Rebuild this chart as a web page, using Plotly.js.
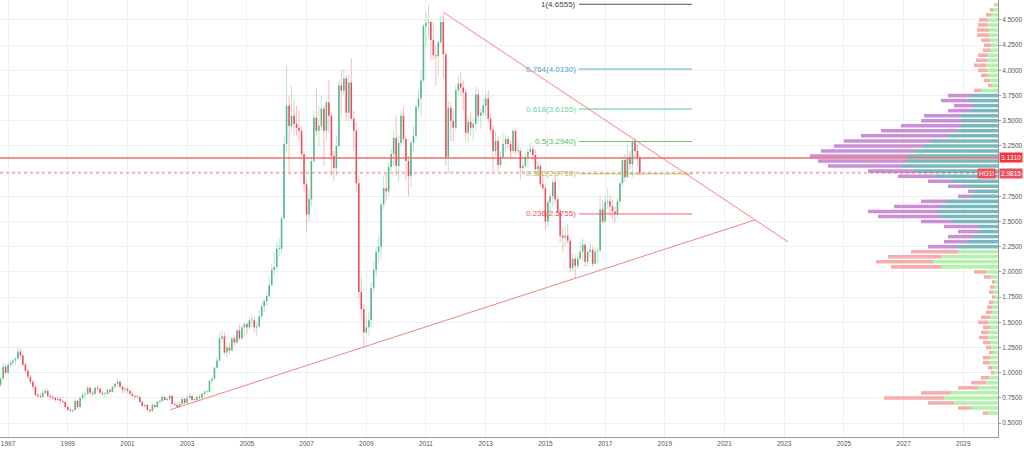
<!DOCTYPE html>
<html><head><meta charset="utf-8">
<script src="https://cdn.plot.ly/plotly-3.0.1.min.js"></script>
<style>html,body{margin:0;padding:0;background:#fff}#chart{width:1024px;height:449px}</style>
</head><body><div id="chart"></div>
<script>
// Monthly candles for HG1! starting Oct 1996
const startYear = 1996, startMonth = 10;
const open = [
0.88,0.94,1.06,
1.00,1.08,1.10,1.12,1.14,1.21,1.17,1.08,1.02,0.96,0.91,0.86,
0.78,0.77,0.76,0.80,0.82,0.77,0.76,0.75,0.73,0.74,0.72,0.71,
0.66,0.63,0.62,0.63,0.72,0.66,0.75,0.78,0.79,0.85,0.80,0.79,
0.85,0.84,0.80,0.79,0.79,0.83,0.81,0.86,0.89,0.91,0.86,0.83,
0.84,0.82,0.79,0.77,0.76,0.76,0.71,0.67,0.68,0.63,0.62,0.68,
0.66,0.71,0.72,0.76,0.73,0.74,0.77,0.69,0.68,0.66,0.69,0.74,
0.70,0.75,0.77,0.73,0.73,0.76,0.75,0.79,0.81,0.81,0.92,0.94,
1.05,1.12,1.34,1.36,1.20,1.25,1.22,1.34,1.30,1.42,1.34,1.45,
1.48,1.45,1.52,1.52,1.45,1.46,1.56,1.66,1.71,1.76,1.87,2.02,
2.05,2.23,2.23,2.53,3.27,3.65,3.45,3.55,3.47,3.43,3.40,3.17,
2.87,2.57,2.72,3.10,3.53,3.40,3.45,3.62,3.40,3.68,3.55,3.15,
3.03,3.25,3.85,3.80,3.92,3.58,3.88,3.52,3.40,2.88,1.80,1.63,
1.40,1.45,1.52,1.84,2.02,2.20,2.25,2.67,2.83,2.80,3.04,3.17,
3.33,3.05,3.28,3.55,3.32,3.10,2.95,3.28,3.35,3.64,3.72,3.90,
4.44,4.47,4.48,4.30,4.15,4.14,4.28,4.48,4.16,3.14,3.63,3.50,
3.43,3.80,3.87,3.83,3.78,3.38,3.49,3.43,3.47,3.76,3.55,3.58,
3.65,3.72,3.52,3.41,3.20,3.30,3.06,3.14,3.27,3.32,3.27,3.20,
3.40,3.20,3.20,3.03,3.05,3.14,3.19,3.22,3.16,3.02,3.05,2.87,
2.83,2.50,2.69,2.75,2.89,2.72,2.60,2.36,2.34,2.36,2.31,2.04,
2.13,2.06,2.13,2.20,2.27,2.10,2.20,2.22,2.08,2.20,2.21,2.62,
2.50,2.69,2.70,2.65,2.60,2.57,2.70,2.88,3.11,2.94,3.14,3.07,
3.30,3.20,3.13];
const high = [
0.96,1.10,1.08,
1.10,1.12,1.14,1.16,1.26,1.24,1.18,1.10,1.04,0.98,0.93,0.87,
0.80,0.80,0.82,0.84,0.83,0.79,0.78,0.76,0.77,0.76,0.76,0.72,
0.67,0.65,0.64,0.74,0.73,0.76,0.80,0.81,0.87,0.86,0.83,0.86,
0.88,0.85,0.82,0.81,0.84,0.84,0.87,0.90,0.94,0.92,0.87,0.86,
0.86,0.83,0.81,0.79,0.78,0.77,0.72,0.70,0.69,0.64,0.70,0.69,
0.72,0.74,0.78,0.77,0.76,0.79,0.78,0.71,0.70,0.71,0.76,0.75,
0.77,0.80,0.78,0.75,0.78,0.78,0.80,0.83,0.83,0.93,0.97,1.06,
1.16,1.40,1.42,1.40,1.30,1.30,1.36,1.37,1.44,1.48,1.48,1.50,
1.50,1.55,1.58,1.56,1.50,1.62,1.70,1.74,1.79,1.95,2.08,2.20,
2.30,2.33,2.55,3.35,4.05,3.75,3.85,3.70,3.65,3.60,3.45,3.20,
2.90,2.82,3.15,3.60,3.82,3.65,3.75,3.65,3.70,3.90,3.58,3.20,
3.35,3.90,4.00,4.02,3.95,3.95,4.12,3.60,3.48,2.95,1.95,1.68,
1.55,1.60,1.90,2.10,2.25,2.35,2.70,2.95,2.98,3.08,3.22,3.40,
3.55,3.35,3.60,3.63,3.35,3.15,3.30,3.45,3.65,3.80,4.00,4.46,
4.58,4.6555,4.50,4.48,4.25,4.30,4.54,4.56,4.20,3.70,3.68,3.62,
3.85,3.95,3.98,3.90,3.82,3.55,3.58,3.53,3.85,3.82,3.62,3.72,
3.78,3.80,3.57,3.45,3.40,3.35,3.20,3.38,3.36,3.35,3.30,3.42,
3.41,3.28,3.23,3.10,3.18,3.22,3.28,3.25,3.21,3.10,3.07,2.96,
2.86,2.72,2.79,2.92,2.98,2.75,2.62,2.44,2.45,2.47,2.34,2.19,
2.17,2.17,2.30,2.33,2.28,2.22,2.30,2.25,2.24,2.24,2.76,2.71,
2.75,2.84,2.76,2.72,2.65,2.73,2.90,3.14,3.17,3.26,3.20,3.31,
3.33,3.26,3.16];
const low = [
0.86,0.93,0.98,
0.99,1.05,1.07,1.08,1.13,1.14,1.06,0.99,0.93,0.88,0.83,0.76,
0.74,0.74,0.75,0.78,0.75,0.73,0.73,0.71,0.72,0.70,0.70,0.65,
0.62,0.61,0.60,0.62,0.64,0.64,0.73,0.74,0.78,0.78,0.77,0.78,
0.82,0.79,0.77,0.76,0.78,0.79,0.80,0.84,0.86,0.84,0.80,0.80,
0.80,0.78,0.76,0.73,0.74,0.70,0.66,0.65,0.62,0.60,0.61,0.64,
0.65,0.69,0.71,0.72,0.72,0.73,0.68,0.67,0.65,0.65,0.68,0.69,
0.70,0.74,0.72,0.70,0.72,0.73,0.74,0.76,0.78,0.80,0.89,0.93,
1.04,1.11,1.30,1.18,1.16,1.18,1.21,1.26,1.28,1.32,1.33,1.35,
1.38,1.43,1.46,1.40,1.36,1.44,1.53,1.60,1.66,1.74,1.85,1.96,
2.02,2.15,2.19,2.52,3.20,3.00,3.40,3.35,3.35,3.30,3.15,2.80,
2.40,2.50,2.65,3.08,3.35,3.25,3.40,3.05,3.30,3.38,2.95,2.90,
2.95,3.23,3.55,3.75,3.50,3.50,3.50,3.20,2.80,1.75,1.52,1.25,
1.38,1.37,1.45,1.80,1.95,2.10,2.12,2.62,2.70,2.75,3.00,3.05,
2.95,2.90,3.25,3.30,2.90,2.75,2.85,3.20,3.30,3.60,3.55,3.88,
4.25,4.33,4.10,4.10,3.85,3.95,4.26,3.92,3.05,2.97,3.30,3.30,
3.40,3.75,3.75,3.60,3.30,3.28,3.35,3.30,3.40,3.50,3.42,3.55,
3.55,3.48,3.37,3.00,3.15,3.00,3.03,3.12,3.20,3.22,3.13,3.18,
3.17,3.17,2.92,2.97,3.03,3.03,3.17,3.10,3.00,2.94,2.85,2.80,
2.42,2.44,2.56,2.65,2.68,2.55,2.29,2.20,2.25,2.28,2.00,2.01,
1.9325,2.03,2.12,2.10,2.05,2.05,2.15,2.05,2.07,2.08,2.20,2.48,
2.48,2.62,2.55,2.52,2.49,2.53,2.65,2.85,2.90,2.93,3.02,2.94,
3.13,3.05,2.96];
const close = [
0.94,1.06,1.00,
1.08,1.10,1.12,1.14,1.21,1.17,1.08,1.02,0.96,0.91,0.86,0.78,
0.77,0.76,0.80,0.82,0.77,0.76,0.75,0.73,0.74,0.72,0.71,0.66,
0.63,0.62,0.63,0.72,0.66,0.75,0.78,0.79,0.85,0.80,0.79,0.85,
0.84,0.80,0.79,0.79,0.83,0.81,0.86,0.89,0.91,0.86,0.83,0.84,
0.82,0.79,0.77,0.76,0.76,0.71,0.67,0.68,0.63,0.62,0.68,0.66,
0.71,0.72,0.76,0.73,0.74,0.77,0.69,0.68,0.66,0.69,0.74,0.70,
0.75,0.77,0.73,0.73,0.76,0.75,0.79,0.81,0.81,0.92,0.94,1.05,
1.12,1.34,1.36,1.20,1.25,1.22,1.34,1.30,1.42,1.34,1.45,1.48,
1.45,1.52,1.52,1.45,1.46,1.56,1.66,1.71,1.76,1.87,2.02,2.05,
2.23,2.23,2.53,3.27,3.65,3.45,3.55,3.47,3.43,3.40,3.17,2.87,
2.57,2.72,3.10,3.53,3.40,3.45,3.62,3.40,3.68,3.55,3.15,3.03,
3.25,3.85,3.80,3.92,3.58,3.88,3.52,3.40,2.88,1.80,1.63,1.40,
1.45,1.52,1.84,2.02,2.20,2.25,2.67,2.83,2.80,3.04,3.17,3.33,
3.05,3.28,3.55,3.32,3.10,2.95,3.28,3.35,3.64,3.72,3.90,4.44,
4.47,4.48,4.30,4.15,4.14,4.28,4.48,4.16,3.14,3.63,3.50,3.43,
3.80,3.87,3.83,3.78,3.38,3.49,3.43,3.47,3.76,3.55,3.58,3.65,
3.72,3.52,3.41,3.20,3.30,3.06,3.14,3.27,3.32,3.27,3.20,3.40,
3.20,3.20,3.03,3.05,3.14,3.19,3.22,3.16,3.02,3.05,2.87,2.83,
2.50,2.69,2.75,2.89,2.72,2.60,2.36,2.34,2.36,2.31,2.04,2.13,
2.06,2.13,2.20,2.27,2.10,2.20,2.22,2.08,2.20,2.21,2.62,2.50,
2.69,2.70,2.65,2.60,2.57,2.70,2.88,3.11,2.94,3.14,3.07,3.30,
3.20,3.13,2.9815];

// Volume profile (visible range): price rows, total volume and up volume per row
const profilePrice = [
0.60,0.65,0.70,0.75,0.80,0.85,0.90,0.95,1.00,1.05,1.10,1.15,1.20,1.25,1.30,1.35,1.40,1.45,1.50,1.55,
1.60,1.65,1.70,1.75,1.80,1.85,1.90,1.95,2.00,2.05,2.10,2.15,2.20,2.25,2.30,2.35,2.40,2.45,2.50,2.55,
2.60,2.65,2.70,2.75,2.80,2.85,2.90,2.95,3.00,3.05,3.10,3.15,3.20,3.25,3.30,3.35,3.40,3.45,3.50,3.55,
3.60,3.65,3.70,3.75,3.80,3.85,3.90,3.95,4.00,4.05,4.10,4.15,4.20,4.25,4.30,4.35,4.40,4.45,4.50,4.55,
4.60,4.65];
const profileTotal = [
15,40,70,114,77,40,27,17,7,10,15,15,9,12,15,19,17,15,20,17,
12,11,9,6,9,8,6,14,24,107,122,110,87,70,54,50,40,54,77,120,
130,104,77,40,30,50,70,100,130,170,180,188,177,164,154,137,117,97,77,74,
50,44,57,50,24,10,14,17,20,24,22,20,15,14,17,21,21,20,19,12,
8,4];
const profileUp = [
10,27,44,54,47,20,12,9,4,6,8,8,5,7,8,10,9,8,10,8,
6,6,5,3,5,4,3,7,12,57,65,57,40,40,30,24,19,20,47,57,
61,57,51,27,24,34,47,61,84,97,91,91,84,74,67,51,41,37,37,37,
28,24,30,27,16,6,8,10,11,12,11,10,8,7,8,9,9,10,10,7,
5,3];
const valueAreaLow = 2.25, valueAreaHigh = 3.75;

// Price axis tick values
const priceTicks = [0.50,0.75,1.00,1.25,1.50,1.75,2.00,2.25,2.50,2.75,3.00,3.25,3.50,3.75,4.00,4.25,4.50];

// Fibonacci retracement drawn between the 2011 high and the 2016 low
const fibLevels = [1, 0.764, 0.618, 0.5, 0.382, 0.236];
const fibPrices = [4.6555, 4.0130, 3.6155, 3.2940, 2.9730, 2.5755];
const fibStart = '2016-02-17', fibEnd = '2019-12-01';
const symbol = 'HG1!';
const lastPrice = 2.9815;
const markedLevel = 3.1310;
const trendUpperX = ['2011-07-28', '2023-02-17'], trendUpperY = [4.579, 2.298];
const trendLowerX = ['2002-06-05', '2022-01-10'], trendLowerY = [0.631, 2.516];

// ---- styles ----
const upBody = '#53b987', downBody = '#eb4d5c';
const upWick = 'rgba(83,185,135,0.38)', downWick = 'rgba(235,77,92,0.38)';
const fibColors = ['#555555', '#5aaad6', '#a6e6c9', '#6cc46c', '#c4c45a', '#ee6262'];
const fibTextColors = ['#444444', '#4b9fcf', '#6fcf9f', '#5cb85c', '#b5b54c', '#e85555'];

const dates = [];
for (let i = 0; i < close.length; i++) {
  const m = startMonth - 1 + i;
  const y = startYear + Math.floor(m / 12);
  const mm = (m % 12) + 1;
  dates.push(y + '-' + String(mm).padStart(2, '0') + '-01');
}

const up = {x: [], base: [], y: []}, dn = {x: [], base: [], y: []};
const wu = {x: [], y: []}, wd = {x: [], y: []};
for (let i = 0; i < close.length; i++) {
  const o = open[i], c = close[i];
  const isUp = c >= o;
  const b = isUp ? up : dn;
  b.x.push(dates[i]);
  b.base.push(Math.min(o, c));
  b.y.push(Math.max(Math.abs(c - o), 0.009));
  const w = isUp ? wu : wd;
  w.x.push(dates[i], dates[i], null);
  w.y.push(low[i], high[i], null);
}

const inVA = profilePrice.map(p => p >= valueAreaLow - 1e-9 && p <= valueAreaHigh + 1e-9);
const profDown = profileTotal.map((t, i) => t - profileUp[i]);

// tick labels hidden where a price badge sits on top of them
const tickText = priceTicks.map(v =>
  (Math.abs(v - lastPrice) < 0.06 || Math.abs(v - markedLevel) < 0.06) ? '' : v.toFixed(4));

const dayMs = 86400000;
const traces = [
  {type: 'scatter', mode: 'lines', x: wu.x, y: wu.y, line: {color: upWick, width: 1}, hoverinfo: 'skip', showlegend: false},
  {type: 'scatter', mode: 'lines', x: wd.x, y: wd.y, line: {color: downWick, width: 1}, hoverinfo: 'skip', showlegend: false},
  {type: 'bar', x: up.x, y: up.y, base: up.base, width: 19 * dayMs, marker: {color: upBody}, hoverinfo: 'skip', showlegend: false},
  {type: 'bar', x: dn.x, y: dn.y, base: dn.base, width: 19 * dayMs, marker: {color: downBody}, hoverinfo: 'skip', showlegend: false},
  {type: 'bar', orientation: 'h', xaxis: 'x2', yaxis: 'y', y: profilePrice, x: profileUp, base: profilePrice.map(() => 0),
   width: 0.035, marker: {color: inVA.map(v => v ? '#78b7bb' : '#b3f1ad')}, hoverinfo: 'skip', showlegend: false},
  {type: 'bar', orientation: 'h', xaxis: 'x2', yaxis: 'y', y: profilePrice, x: profDown, base: profileUp,
   width: 0.035, marker: {color: inVA.map(v => v ? '#cb8fd7' : '#f8adad')}, hoverinfo: 'skip', showlegend: false}
];

const shapes = [];
fibLevels.forEach((lv, i) => {
  shapes.push({type: 'line', xref: 'x', yref: 'y', x0: fibStart, x1: fibEnd, y0: fibPrices[i], y1: fibPrices[i],
    line: {color: fibColors[i], width: i === 2 ? 2 : 1}});
});
shapes.push({type: 'line', xref: 'paper', yref: 'y', x0: 0, x1: 1, y0: markedLevel, y1: markedLevel,
  line: {color: 'rgba(240,100,100,0.7)', width: 2}});
shapes.push({type: 'line', xref: 'paper', yref: 'y', x0: 0, x1: 1, y0: lastPrice, y1: lastPrice,
  line: {color: 'rgba(235,77,92,0.8)', width: 1, dash: 'dot'}});
shapes.push({type: 'line', xref: 'x', yref: 'y', x0: trendUpperX[0], x1: trendUpperX[1], y0: trendUpperY[0], y1: trendUpperY[1],
  line: {color: 'rgba(245,115,115,0.9)', width: 1}});
shapes.push({type: 'line', xref: 'x', yref: 'y', x0: trendLowerX[0], x1: trendLowerX[1], y0: trendLowerY[0], y1: trendLowerY[1],
  line: {color: 'rgba(245,115,115,0.9)', width: 1}});

const fnt = 'Liberation Sans, Arial, sans-serif';
const annotations = fibLevels.map((lv, i) => ({
  xref: 'x', yref: 'y', x: fibStart, y: fibPrices[i], xanchor: 'right', yanchor: 'middle', xshift: -1,
  text: lv + '(' + fibPrices[i].toFixed(4) + ')', showarrow: false,
  font: {family: fnt, size: 8, color: fibTextColors[i]}
}));
annotations.push({xref: 'paper', yref: 'y', x: 1, y: markedLevel, xanchor: 'left', yanchor: 'middle', xshift: 1, text: markedLevel.toFixed(4),
  showarrow: false, bgcolor: '#f6323e', borderpad: 1, font: {family: fnt, size: 6.5, color: '#ffffff'}});
annotations.push({xref: 'paper', yref: 'y', x: 1, y: lastPrice, xanchor: 'left', yanchor: 'middle', xshift: 1, text: lastPrice.toFixed(4),
  showarrow: false, bgcolor: '#ef4c5a', borderpad: 1, font: {family: fnt, size: 6.5, color: '#ffffff'}});
annotations.push({xref: 'paper', yref: 'y', x: 1, y: lastPrice, xanchor: 'right', yanchor: 'middle', xshift: -2, text: symbol,
  showarrow: false, bgcolor: '#ef4c5a', borderpad: 1, font: {family: fnt, size: 6.5, color: '#ffffff'}});

const layout = {
  width: 1024, height: 449,
  margin: {l: 0, r: 26, t: 0, b: 12, pad: 0},
  paper_bgcolor: '#ffffff', plot_bgcolor: '#ffffff',
  barmode: 'overlay', showlegend: false, hovermode: false,
  xaxis: {type: 'date', range: ['1996-09-24', '2030-03-01'], tick0: '1997-01-01', dtick: 'M24', tickformat: '%Y',
    showgrid: true, gridcolor: '#edf1f4', gridwidth: 1, zeroline: false, showline: true, linecolor: '#9a9a9a', linewidth: 1,
    ticks: '', tickfont: {family: fnt, size: 6.5, color: '#555555'}, fixedrange: true},
  yaxis: {range: [0.362, 4.698], side: 'right', tickmode: 'array', tickvals: priceTicks, ticktext: tickText,
    showgrid: true, gridcolor: '#edf1f4', gridwidth: 1, zeroline: false, showline: true, linecolor: '#9a9a9a', linewidth: 1,
    ticks: 'outside', ticklen: 2, tickcolor: '#9a9a9a', tickfont: {family: fnt, size: 6.5, color: '#555555'}, fixedrange: true},
  xaxis2: {overlaying: 'x', range: [998, 0], visible: false, fixedrange: true},
  shapes: shapes,
  annotations: annotations
};

Plotly.newPlot('chart', traces, layout, {staticPlot: true, displayModeBar: false});
</script>
</body></html>
